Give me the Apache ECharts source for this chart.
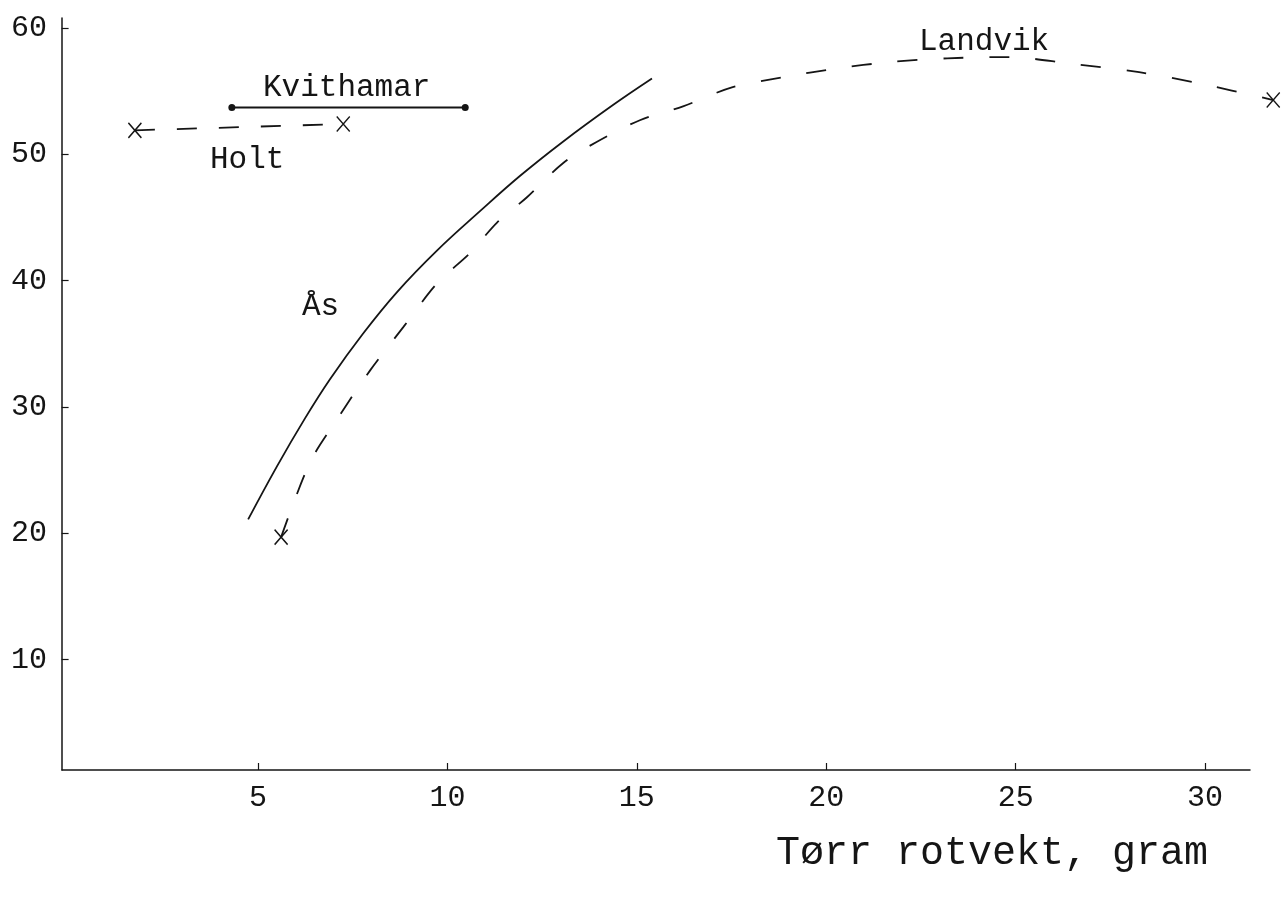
<!DOCTYPE html>
<html>
<head>
<meta charset="utf-8">
<script src="https://cdn.jsdelivr.net/npm/echarts@6/dist/echarts.min.js"></script>
<style>
  html, body { margin: 0; padding: 0; background: #fff; }
  #chart { width: 1282px; height: 899px; }
</style>
</head>
<body>
<div id="chart"></div>
<script>
// tick labels
const xTicks = [5, 10, 15, 20, 25, 30]
const yTicks = [10, 20, 30, 40, 50, 60]

// Kvithamar (solid, dots at both ends)
const kvithamarX = [4.31, 10.47]
const kvithamarY = [53.7, 53.7]

// Holt (dashed, crosses at both ends)
const holtX = [1.75, 7.25]
const holtY = [51.9, 52.4]

// Ås (solid curve)
const asX = [4.74, 5.50, 6.24, 6.90, 7.77, 8.67, 9.73, 10.86, 11.92, 13.05, 14.37, 15.40]
const asY = [21.1, 25.3, 29.1, 32.2, 35.8, 39.1, 42.4, 45.5, 48.3, 51.0, 53.9, 56.0]

// Landvik (dashed curve, crosses at both ends)
const landvikX = [5.61, 6.37, 7.08, 7.96, 8.83, 9.73, 10.60, 11.31, 12.10, 13.05, 13.95, 15.08,
  16.22, 17.51, 18.86, 20.28, 21.68, 23.19, 24.83, 26.39, 28.26, 29.87, 31.80]
const landvikY = [19.7, 25.6, 29.0, 32.9, 36.3, 39.8, 42.2, 44.6, 46.6, 49.3, 51.0, 52.7,
  53.8, 55.3, 56.1, 56.8, 57.3, 57.6, 57.7, 57.2, 56.5, 55.6, 54.3]

const ink = '#151515'
const mono = '"Liberation Mono", "DejaVu Sans Mono", monospace'
const cross = 'path://M0,0L10,12M10,0L0,12'

const zip = (xs, ys) => xs.map((x, i) => [x, ys[i]])
// cross only on first and last point
const endCross = n => (v, p) => (p.dataIndex === 0 || p.dataIndex === n - 1) ? cross : 'none'

const chart = echarts.init(document.getElementById('chart'))

chart.setOption({
  animation: false,
  backgroundColor: '#fff',
  grid: [
    // data grid
    { left: 68.6, top: 28, right: 1.2, bottom: 113 },
    // frame (axis lines only)
    { left: 62, top: 18, right: 32, bottom: 129 }
  ],
  xAxis: [
    {
      type: 'value', gridIndex: 0, min: 0, max: 32,
      offset: -16,
      axisLine: { show: false },
      axisTick: { show: true, inside: true, length: 7, customValues: xTicks, lineStyle: { color: ink, width: 1.2 } },
      axisLabel: { customValues: xTicks, color: ink, fontFamily: mono, fontSize: 30, margin: 13 },
      splitLine: { show: false }
    },
    {
      type: 'value', gridIndex: 1, min: 0, max: 1,
      axisLine: { show: true, onZero: false, lineStyle: { color: ink, width: 1.5 } },
      axisTick: { show: false },
      axisLabel: { show: false },
      splitLine: { show: false }
    }
  ],
  yAxis: [
    {
      type: 'value', gridIndex: 0, min: 0, max: 60,
      offset: 6.6,
      axisLine: { show: false },
      axisTick: { show: true, length: 7, customValues: yTicks, lineStyle: { color: ink, width: 1.2 } },
      axisLabel: { customValues: yTicks, color: ink, fontFamily: mono, fontSize: 30, margin: 15 },
      splitLine: { show: false }
    },
    {
      type: 'value', gridIndex: 1, min: 0, max: 1,
      axisLine: { show: true, onZero: false, lineStyle: { color: ink, width: 1.5 } },
      axisTick: { show: false },
      axisLabel: { show: false },
      splitLine: { show: false }
    }
  ],
  series: [
    {
      name: 'Kvithamar',
      type: 'line',
      data: zip(kvithamarX, kvithamarY),
      symbol: 'circle',
      symbolSize: 7,
      itemStyle: { color: ink },
      lineStyle: { color: ink, width: 2 }
    },
    {
      name: 'Holt',
      type: 'line',
      data: zip(holtX, holtY),
      symbol: endCross(holtX.length),
      symbolSize: [13, 15],
      itemStyle: { color: 'none', borderColor: ink, borderWidth: 1.5 },
      lineStyle: { color: ink, width: 1.8, type: [20, 22] }
    },
    {
      name: 'Ås',
      type: 'line',
      data: zip(asX, asY),
      smooth: 0.4,
      showSymbol: false,
      lineStyle: { color: ink, width: 1.8 }
    },
    {
      name: 'Landvik',
      type: 'line',
      data: zip(landvikX, landvikY),
      smooth: 0.3,
      clip: false,
      symbol: endCross(landvikX.length),
      symbolSize: [13, 15],
      itemStyle: { color: 'none', borderColor: ink, borderWidth: 1.5 },
      lineStyle: { color: ink, width: 1.8, type: [20, 26] }
    }
  ],
  graphic: [
    { type: 'text', x: 263, y: 88, style: { text: 'Kvithamar', fontFamily: mono, fontSize: 31, fill: ink, verticalAlign: 'middle' } },
    { type: 'text', x: 210, y: 160, style: { text: 'Holt', fontFamily: mono, fontSize: 31, fill: ink, verticalAlign: 'middle' } },
    { type: 'text', x: 302, y: 307, style: { text: 'Ås', fontFamily: mono, fontSize: 31, fill: ink, verticalAlign: 'middle' } },
    { type: 'text', x: 919, y: 42, style: { text: 'Landvik', fontFamily: mono, fontSize: 31, fill: ink, verticalAlign: 'middle' } },
    { type: 'text', x: 776, y: 853, style: { text: 'Tørr rotvekt, gram', fontFamily: mono, fontSize: 40, fill: ink, verticalAlign: 'middle' } }
  ]
})
</script>
</body>
</html>
